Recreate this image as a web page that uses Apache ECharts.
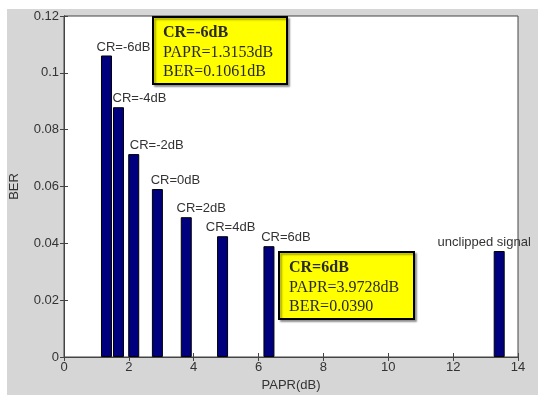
<!DOCTYPE html>
<html><head><meta charset="utf-8">
<script src="https://cdn.jsdelivr.net/npm/echarts@6/dist/echarts.min.js"></script>
<style>html,body{margin:0;padding:0;background:#fff}#c{width:538px;height:397px}</style>
</head><body><div id="c"></div>
<script>
// Data
const barLabels = ['CR=-6dB','CR=-4dB','CR=-2dB','CR=0dB','CR=2dB','CR=4dB','CR=6dB','unclipped signal'];
const paprValues = [1.31, 1.68, 2.15, 2.88, 3.77, 4.89, 6.32, 13.42];
const berValues = [0.1061, 0.0879, 0.0714, 0.0591, 0.0492, 0.0425, 0.0390, 0.0373];
const xTicks = [0, 2, 4, 6, 8, 10, 12, 14];
const yTicks = [0, 0.02, 0.04, 0.06, 0.08, 0.1, 0.12];
const box1Lines = ['CR=-6dB', 'PAPR=1.3153dB', 'BER=0.1061dB'];
const box2Lines = ['CR=6dB', 'PAPR=3.9728dB', 'BER=0.0390'];
// label placement tweaks (horizontal offset in px)
const labelDx = [17, 21, 23, 18, 15, 8, 17, -15];

const chart = echarts.init(document.getElementById('c'), null, {renderer: 'canvas'});
const sans = 'Liberation Sans, Arial, sans-serif';
const serif = 'Liberation Serif, Times New Roman, serif';

function box(x, y, w, h, lines) {
  const children = [{
    type: 'rect', shape: {x: x, y: y, width: w, height: h},
    style: {fill: '#ffff00', stroke: '#000', lineWidth: 2, shadowColor: 'rgba(0,0,0,0.35)', shadowOffsetX: 2, shadowOffsetY: 2, shadowBlur: 2}
  }];
  lines.forEach((t, i) => {
    children.push({
      type: 'text', x: x + 10, y: y + 16 + i * 19.5,
      style: {text: t, font: (i === 0 ? 'bold ' : '') + '16px ' + serif, fill: '#2a2a2a', verticalAlign: 'middle'}
    });
  });
  return {type: 'group', z: 100, children: children};
}

const axisLineStyle = {color: '#444', width: 1};
const txt = '#333';
const option = {
  backgroundColor: '#fff',
  animation: false,
  graphic: [
    {type: 'rect', z: -10, shape: {x: 7, y: 9, width: 531, height: 386}, style: {fill: '#d6d6d6'}},
    box(153, 17, 134, 67, box1Lines),
    box(279, 252, 135, 67, box2Lines)
  ],
  grid: {left: 63, right: 20, top: 16, bottom: 38, show: true, backgroundColor: '#fff', borderColor: '#444', borderWidth: 1},
  xAxis: [{
    type: 'value', min: xTicks[0], max: xTicks[xTicks.length - 1], interval: 2,
    name: 'PAPR(dB)', nameLocation: 'middle', nameGap: 22,
    nameTextStyle: {fontFamily: sans, fontSize: 13, color: txt},
    axisLine: {show: true, lineStyle: axisLineStyle},
    axisTick: {show: true, inside: true, length: 4, lineStyle: {color: '#444'}},
    axisLabel: {fontFamily: sans, fontSize: 13, color: txt, margin: 4},
    splitLine: {show: false}
  }, {
    type: 'value', position: 'top', min: xTicks[0], max: xTicks[xTicks.length - 1], interval: 2,
    axisLine: {show: true, lineStyle: axisLineStyle},
    axisTick: {show: true, inside: true, length: 4, lineStyle: {color: '#444'}},
    axisLabel: {show: false}, splitLine: {show: false}
  }],
  yAxis: [{
    type: 'value', min: yTicks[0], max: yTicks[yTicks.length - 1], interval: 0.02,
    name: 'BER', nameLocation: 'middle', nameGap: 43, nameRotate: 90,
    nameTextStyle: {fontFamily: sans, fontSize: 13, color: txt},
    axisLine: {show: true, lineStyle: axisLineStyle},
    axisTick: {show: true, inside: true, length: 4, lineStyle: {color: '#444'}},
    axisLabel: {fontFamily: sans, fontSize: 13, color: txt, margin: 5, formatter: v => String(+v.toFixed(2))},
    splitLine: {show: false}
  }, {
    type: 'value', position: 'right', min: yTicks[0], max: yTicks[yTicks.length - 1], interval: 0.02,
    axisLine: {show: true, lineStyle: axisLineStyle},
    axisTick: {show: true, inside: true, length: 4, lineStyle: {color: '#444'}},
    axisLabel: {show: false}, splitLine: {show: false}
  }],
  series: [{
    type: 'bar', xAxisIndex: 0, yAxisIndex: 0, barWidth: 11,
    itemStyle: {color: '#00007f', borderColor: '#000', borderWidth: 1},
    label: {show: true, position: 'top', distance: 2, fontFamily: sans, fontSize: 13, color: txt,
      formatter: p => barLabels[p.dataIndex]},
    data: paprValues.map((x, i) => ({value: [x, berValues[i]], label: {offset: [labelDx[i], 0]}}))
  }]
};
chart.setOption(option);
</script></body></html>
